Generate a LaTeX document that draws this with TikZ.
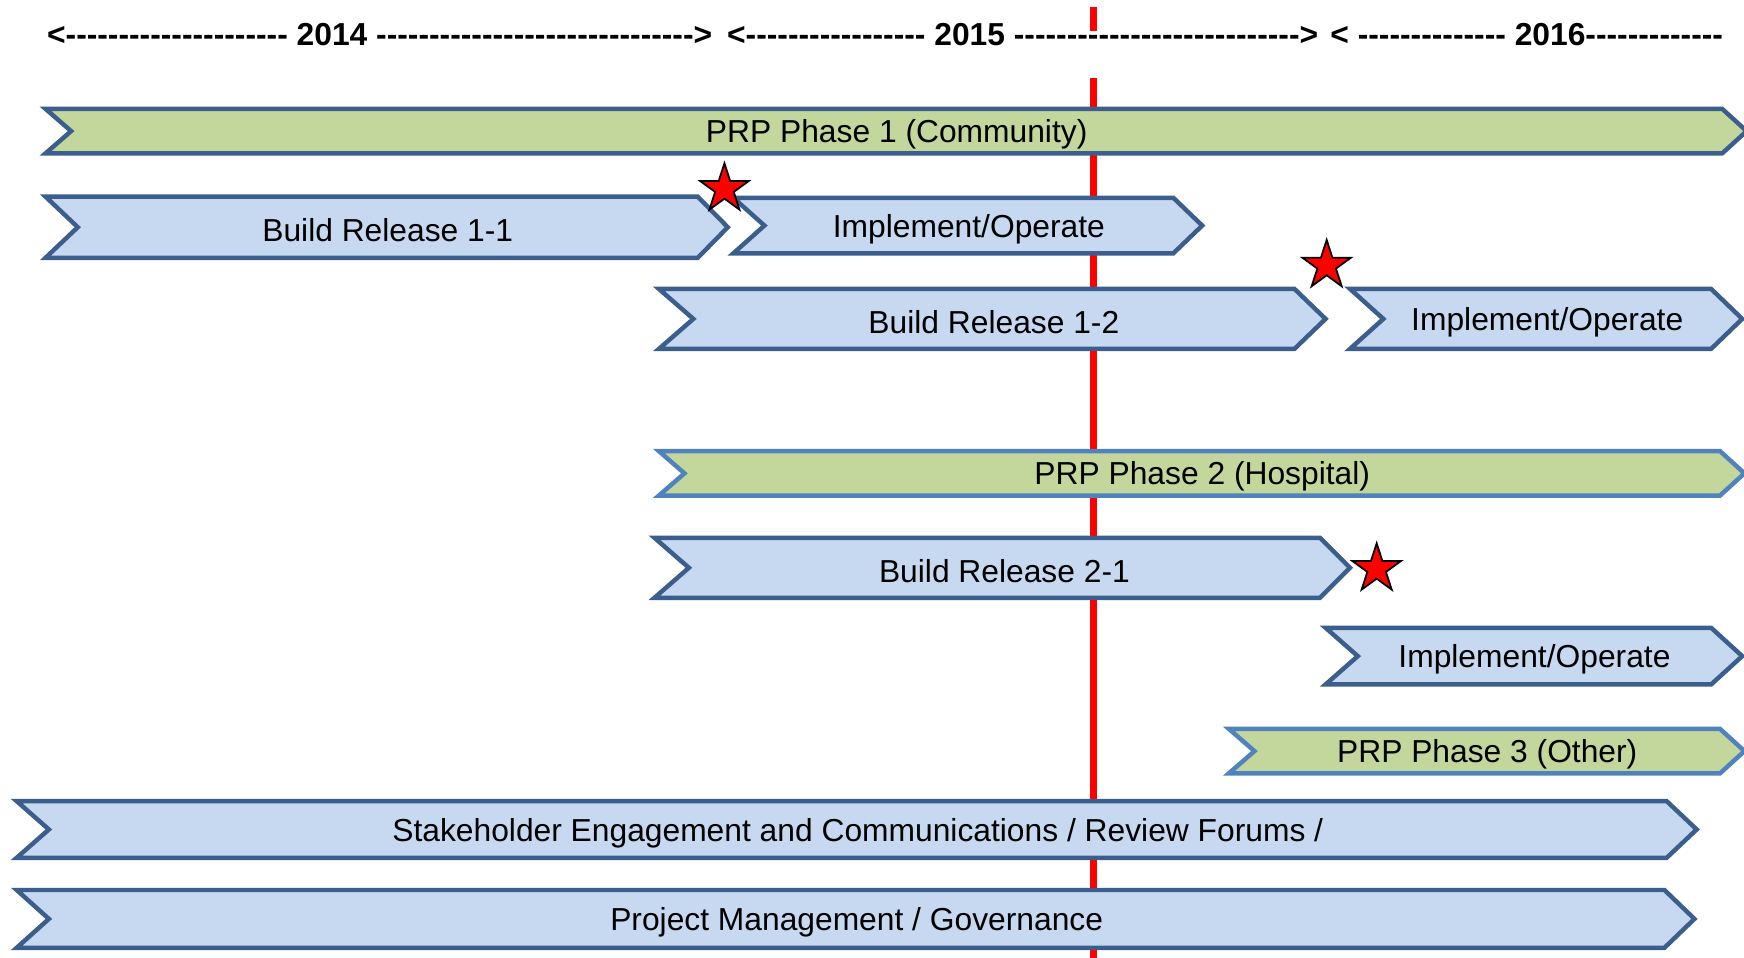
\documentclass[tikz,border=0pt]{standalone}
\usepackage{fontspec}
\setmainfont{Liberation Sans}
\usetikzlibrary{shapes.geometric}
\definecolor{bfill}{HTML}{C6D9F1}
\definecolor{bdark}{HTML}{3B5E8C}
\definecolor{gfill}{HTML}{C3D69B}
\definecolor{blite}{HTML}{5082BE}
\definecolor{redl}{HTML}{FF0000}
% name, style, x left, x notch, x right corner, x tip, y top, y bottom, text
\newcommand\chevron[9]{%
  \draw[#2] (#3,#7) -- (#5,#7) -- (#6,{(#7+#8)/2}) -- (#5,#8) -- (#3,#8) -- (#4,{(#7+#8)/2}) -- cycle;
  \node[lbl] (#1) at ({(#4+#5)/2},{(#7+#8)/2}) {#9};
}
\newcommand\hy[1]{\foreach \i in {1,...,#1}{-\kern0pt}}
\begin{document}
\begin{tikzpicture}[x=0.5pt,y=-0.5pt,line join=miter,
  cb/.style={draw=bdark,fill=bfill,line width=2pt},
  cg/.style={draw=bdark,fill=gfill,line width=2pt},
  cgl/.style={draw=blite,fill=gfill,line width=2pt},
  lbl/.style={inner sep=0pt,yshift=-1.5pt,font=\fontsize{14.3}{17}\selectfont},
  hdr/.style={inner sep=0pt,anchor=base west,font=\fontsize{14.3}{17}\selectfont\bfseries},
  stb/.style={star,star points=5,star point ratio=2.618,fill=red,draw=black,line width=0.8pt,inner sep=0pt,minimum size=23pt}]
\useasboundingbox (0,0) rectangle (1569.6,862.2);
% red "today" line
\coordinate (r0) at (984,6);
\coordinate (r1) at (984,28);
\coordinate (r2) at (984,70);
\coordinate (r3) at (984,870);
\draw[redl,line width=3pt] (r0) -- (r1);
\draw[redl,line width=3pt] (r2) -- (r3);
% header
\node[hdr] (h14) at (42,41) {<\hy{21} 2014 \hy{30}>};
\node[hdr] (h15) at (654,41) {<\hy{17} 2015 \hy{27}>};
\node[hdr] (h16) at (1197,41) {< \hy{14} 2016\hy{13}};
% chevrons
\chevron{p1}{cg}{41}{64}{1550}{1572}{98}{138}{PRP Phase 1 (Community)}
\chevron{b11}{cb}{41}{70}{628}{655}{177}{232}{Build Release 1-1}
\chevron{io1}{cb}{660}{688}{1056}{1082}{178}{228}{Implement/Operate}
\chevron{b12}{cb}{593}{624}{1165}{1193}{260}{314}{Build Release 1-2}
\chevron{io2}{cb}{1215}{1245}{1540}{1568}{260}{314}{Implement/Operate}
\chevron{p2}{cgl}{593}{616}{1548}{1570}{406}{446}{PRP Phase 2 (Hospital)}
\chevron{b21}{cb}{589}{620}{1188}{1215}{484}{538}{Build Release 2-1}
\chevron{io3}{cb}{1193}{1222}{1540}{1568}{565}{616}{Implement/Operate}
\chevron{p3}{cgl}{1106}{1129}{1548}{1570}{656}{696}{PRP Phase 3 (Other)}
\chevron{se}{cb}{15}{44}{1500}{1527}{721}{772}{Stakeholder Engagement and Communications / Review Forums /}
\chevron{pm}{cb}{15}{44}{1498}{1525}{801}{853}{Project Management / Governance}
% milestones
\node[stb] (s1) at (652,170) {};
\node[stb] (s2) at (1194,239) {};
\node[stb] (s3) at (1239,512) {};
\end{tikzpicture}
\end{document}
